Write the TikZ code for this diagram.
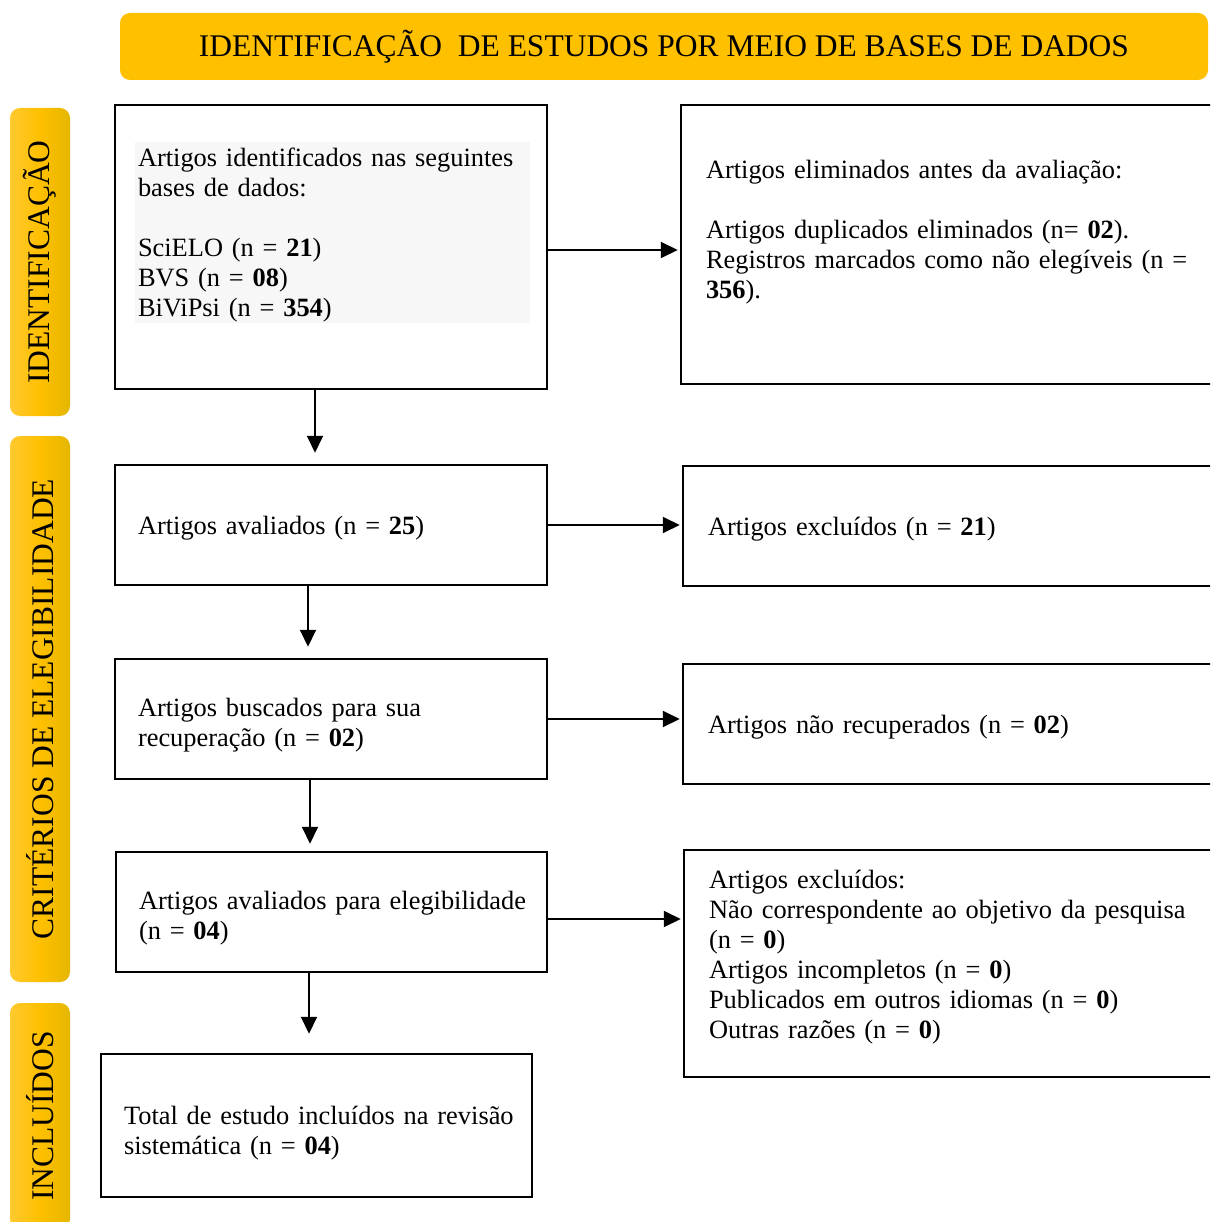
\documentclass[tikz,border=0pt]{standalone}
\usepackage{fontspec}
\setmainfont{Liberation Serif}
\usepackage{tikz}
\usetikzlibrary{arrows.meta}

\definecolor{banner}{RGB}{255,192,0}
\definecolor{tabl}{RGB}{255,201,48}
\definecolor{tabr}{RGB}{228,182,0}
\definecolor{backdrop}{RGB}{247,247,247}

\begin{document}
\begin{tikzpicture}[x=1pt,y=-1pt,
  box/.style={draw, line width=2.5pt, inner xsep=23pt, align=left,
    font=\fontsize{26.4}{30}\selectfont},
  rbox/.style={box, inner xsep=25pt},
  tab/.style={rounded corners=10pt, rotate=90, minimum height=60pt,
    left color=tabl, right color=tabr, middle color=banner,
    font=\fontsize{31.5}{34}\selectfont},
  link/.style={-{Triangle[length=17pt,width=16pt]}, line width=2pt}]
\useasboundingbox (0,0) rectangle (1210,1222);
\clip (0,0) rectangle (1210,1222);

% banner and side tabs
\node[fill=banner, rounded corners=10pt, minimum width=1088pt, minimum height=67pt,
  font=\fontsize{31.5}{34}\selectfont] (title) at (664,46.5)
  {IDENTIFICAÇÃO\ \ DE ESTUDOS POR MEIO DE BASES DE DADOS};
\node[tab, minimum width=308pt] (tabid) at (40,262) {IDENTIFICAÇÃO};
\node[tab, minimum width=546pt] (tabel) at (40,709) {CRITÉRIOS DE ELEGIBILIDADE};
\node[tab, minimum width=226pt] (tabin) at (40,1116) {INCLUÍDOS};

\fill[backdrop] (135,142) rectangle (530,323);

% left column
\node[box, minimum width=432pt, minimum height=284pt, text width=386pt] (ident) at (331,247)
  {\mbox{Artigos identificados nas seguintes}\\ bases de dados:\\ ~\\ SciELO (n = \textbf{21})\\
   BVS (n = \textbf{08})\\ BiViPsi (n = \textbf{354})\\ ~};
\node[box, minimum width=432pt, minimum height=120pt, text width=386pt, text depth=0pt] (aval) at (331,525)
  {Artigos avaliados (n = \textbf{25})};
\node[box, minimum width=432pt, minimum height=120pt, text width=386pt] (busc) at (331,719)
  {\rule{0pt}{30pt}Artigos buscados para sua\\ recuperação (n = \textbf{02})};
\node[box, minimum width=431pt, minimum height=120pt, text width=385pt] (eleg) at (331.5,912)
  {\rule{0pt}{30pt}\mbox{Artigos avaliados para elegibilidade}\\ (n = \textbf{04})};
\node[box, minimum width=431pt, minimum height=143pt, text width=385pt] (incl) at (316.5,1125.5)
  {\rule{0pt}{34pt}\mbox{Total de estudo incluídos na revisão}\\ sistemática (n = \textbf{04})};

% right column
\node[rbox, minimum width=559pt, minimum height=279pt, text width=509pt] (elim) at (960.5,244.5)
  {Artigos eliminados antes da avaliação:\\ ~\\ Artigos duplicados eliminados (n= \textbf{02}).\\
   \mbox{Registros marcados como não elegíveis (n =}\\ \textbf{356}).\\ ~};
\node[rbox, minimum width=557pt, minimum height=120pt, text width=507pt, text depth=0pt] (excl) at (961.5,526)
  {Artigos excluídos (n = \textbf{21})};
\node[rbox, minimum width=557pt, minimum height=120pt, text width=507pt, text depth=0pt] (nrec) at (961.5,724)
  {Artigos não recuperados (n = \textbf{02})};
\node[rbox, minimum width=556pt, minimum height=227pt, text width=506pt] (razo) at (962,963.5)
  {Artigos excluídos:\\ \mbox{Não correspondente ao objetivo da pesquisa}\\ (n = \textbf{0})\\
   Artigos incompletos (n = \textbf{0})\\ Publicados em outros idiomas (n = \textbf{0})\\
   Outras razões (n = \textbf{0})\rule[-18pt]{0pt}{0pt}};

% connectors
\draw[link, shorten >=2pt] ([yshift=-3pt]ident.east) -- ([yshift=-3pt]ident.east -| elim.west);
\draw[link, shorten >=2pt] (aval.east) -- (aval.east -| excl.west);
\draw[link, shorten >=2pt] (busc.east) -- (busc.east -| nrec.west);
\draw[link, shorten >=2pt] ([yshift=-7pt]eleg.east) -- ([yshift=-7pt]eleg.east -| razo.west);
\draw[link, shorten >=11pt] ([xshift=-16pt]ident.south) -- ([xshift=-16pt]ident.south |- aval.north);
\draw[link, shorten >=11pt] ([xshift=-23pt]aval.south) -- ([xshift=-23pt]aval.south |- busc.north);
\draw[link, shorten >=7pt] ([xshift=-21pt]busc.south) -- ([xshift=-21pt]busc.south |- eleg.north);
\draw[link, shorten >=19pt] ([xshift=-22.5pt]eleg.south) -- ([xshift=-22.5pt]eleg.south |- incl.north);
\end{tikzpicture}
\end{document}
